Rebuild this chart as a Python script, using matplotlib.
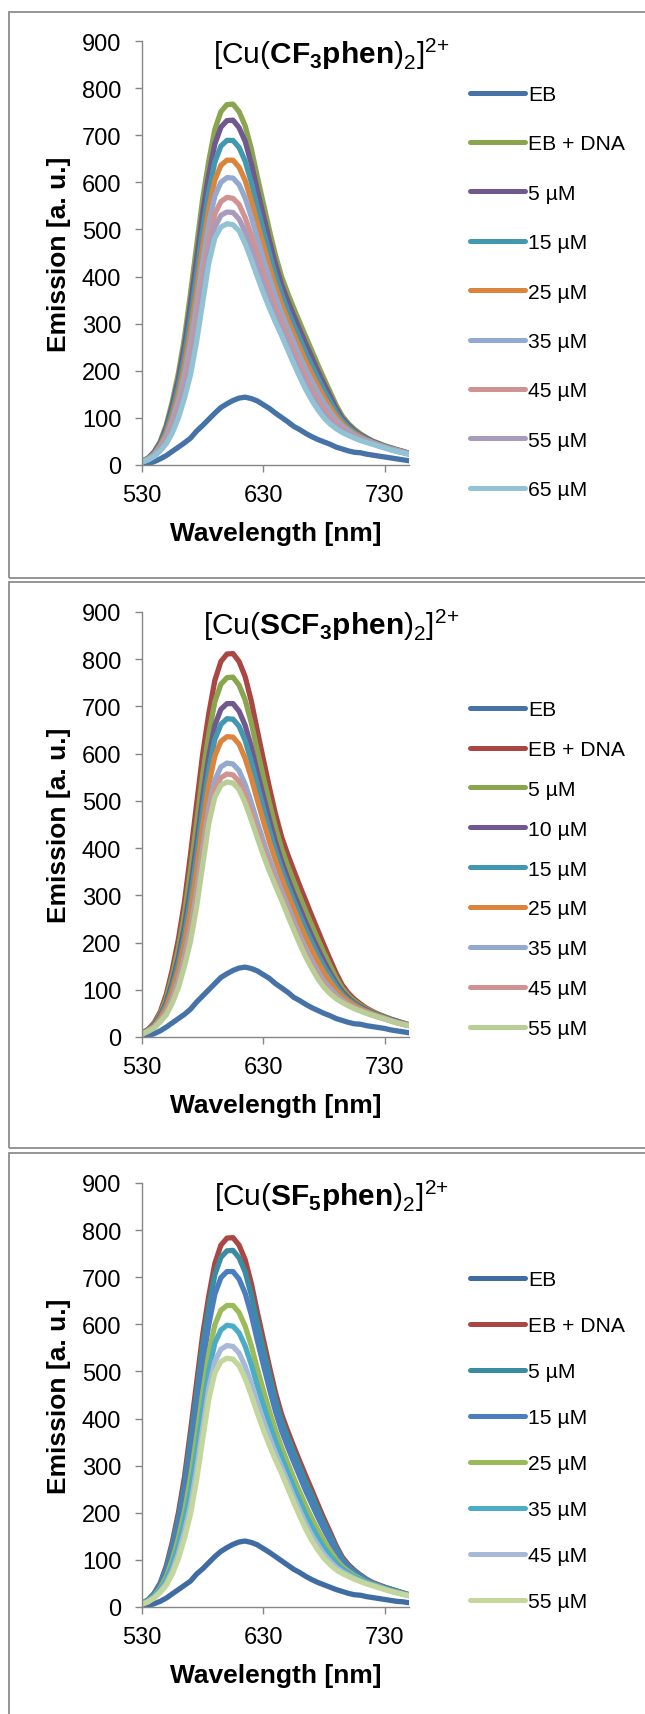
import matplotlib
matplotlib.use("Agg")
import matplotlib.pyplot as plt
from matplotlib.patches import Rectangle

plt.rcParams["font.family"] = ["Liberation Sans", "DejaVu Sans"]
plt.rcParams["mathtext.fontset"] = "custom"
plt.rcParams["mathtext.rm"] = "Liberation Sans"
plt.rcParams["mathtext.bf"] = "Liberation Sans:bold"

# --- datos: longitud de onda (nm) ---
wl = [530, 535, 540, 545, 550, 555, 560, 565, 570, 575, 580, 585, 590, 595, 600,
      605, 610, 615, 620, 625, 630, 635, 640, 645, 650, 655, 660, 665, 670, 675,
      680, 685, 690, 695, 700, 705, 710, 715, 720, 725, 730, 735, 740, 745, 750]

# --- panel 1: [Cu(CF3phen)2]2+ ---
cf3_labels = ["EB", "EB + DNA", "5 µM", "15 µM", "25 µM", "35 µM", "45 µM", "55 µM", "65 µM"]
cf3_colors = ["#4572A7", "#89A54E", "#71588F", "#4198AF", "#DB843D",
              "#93A9CF", "#D19392", "#A99BBD", "#92C3D4"]
cf3_eb = [0, 3, 7, 13, 20, 29, 38, 47, 57, 72, 84, 97, 110, 122, 130, 137, 142, 144, 141, 136, 128, 120, 110,
          101, 92, 82, 75, 67, 60, 54, 49, 44, 38, 34, 30, 27, 26, 23, 21, 19, 17, 15, 13, 11, 9]
cf3_dna = [8, 15, 28, 50, 85, 135, 195, 270, 365, 465, 565, 645, 712, 750, 765, 766, 750, 720, 672, 612, 555,
           498, 445, 400, 365, 333, 302, 272, 242, 212, 183, 155, 127, 104, 88, 76, 66, 58, 51, 46, 41, 37, 33, 29, 25]
cf3_5 = [8, 14, 27, 47, 80, 126, 182, 253, 342, 438, 536, 616, 681, 717, 731, 732, 716, 687, 640, 584, 530,
         476, 426, 383, 349, 317, 287, 257, 228, 199, 172, 146, 120, 99, 85, 73, 64, 57, 50, 45, 40, 36, 32, 29, 25]
cf3_15 = [7, 14, 25, 44, 73, 115, 167, 232, 313, 404, 499, 580, 643, 677, 689, 689, 674, 645, 601, 548, 498,
          449, 402, 363, 329, 298, 268, 238, 211, 184, 158, 135, 112, 94, 81, 70, 62, 55, 49, 44, 40, 36, 32, 28, 24]
cf3_25 = [7, 13, 23, 41, 66, 104, 151, 211, 285, 371, 463, 544, 605, 636, 647, 647, 632, 604, 562, 513, 467,
          421, 379, 342, 309, 278, 249, 220, 193, 168, 144, 123, 104, 88, 76, 67, 60, 53, 48, 43, 39, 35, 31, 28, 24]
cf3_35 = [7, 13, 22, 38, 60, 94, 137, 191, 259, 340, 430, 512, 571, 600, 610, 609, 595, 567, 527, 482, 438,
          397, 358, 323, 291, 261, 231, 203, 178, 154, 132, 113, 96, 83, 73, 64, 57, 52, 47, 42, 38, 34, 31, 27, 24]
cf3_45 = [6, 12, 20, 34, 54, 83, 121, 170, 230, 307, 393, 476, 533, 559, 568, 566, 553, 525, 488, 447, 407,
          369, 334, 303, 271, 241, 212, 185, 160, 138, 118, 102, 88, 77, 68, 61, 55, 50, 46, 41, 37, 33, 30, 27, 23]
cf3_55 = [6, 11, 19, 32, 49, 75, 110, 155, 209, 282, 367, 450, 505, 530, 537, 536, 522, 495, 460, 421, 384,
          350, 317, 288, 257, 227, 199, 171, 148, 127, 108, 94, 82, 73, 66, 59, 53, 49, 45, 41, 37, 33, 29, 26, 23]
cf3_65 = [6, 11, 18, 30, 45, 68, 100, 142, 192, 262, 345, 428, 482, 505, 512, 510, 497, 470, 436, 400, 365,
          333, 303, 275, 245, 215, 187, 160, 137, 117, 100, 87, 77, 69, 63, 57, 52, 48, 44, 40, 36, 32, 29, 26, 23]

# --- panel 2: [Cu(SCF3phen)2]2+ ---
scf3_labels = ["EB", "EB + DNA", "5 µM", "10 µM", "15 µM", "25 µM", "35 µM", "45 µM", "55 µM"]
scf3_colors = ["#4572A7", "#AA4643", "#89A54E", "#71588F", "#4198AF", "#DB843D",
               "#93A9CF", "#D19392", "#B9CD96"]
scf3_eb = [0, 3, 7, 13, 21, 30, 39, 48, 59, 74, 87, 100, 113, 126, 134, 141, 146, 148, 145, 140, 132, 124, 113,
           104, 95, 84, 77, 69, 62, 56, 50, 45, 39, 35, 31, 28, 27, 24, 22, 20, 18, 15, 13, 11, 9]
scf3_dna = [9, 16, 30, 53, 90, 143, 207, 286, 387, 493, 599, 684, 755, 795, 811, 812, 795, 763, 712, 649, 588,
            528, 472, 424, 387, 353, 320, 288, 256, 225, 194, 164, 135, 110, 93, 80, 70, 61, 54, 48, 43, 38, 34, 30, 26]
scf3_5 = [8, 15, 28, 49, 82, 130, 188, 261, 353, 453, 556, 641, 710, 747, 761, 762, 745, 714, 666, 607, 551,
          495, 444, 399, 363, 330, 297, 266, 236, 206, 178, 151, 125, 103, 88, 76, 67, 59, 53, 47, 42, 37, 33, 29, 26]
scf3_10 = [8, 14, 26, 45, 73, 116, 168, 234, 316, 409, 508, 594, 660, 694, 706, 706, 690, 660, 615, 561, 510,
           460, 413, 372, 337, 304, 273, 242, 213, 186, 160, 136, 114, 96, 83, 72, 64, 57, 51, 46, 41, 37, 33, 29, 25]
scf3_15 = [8, 14, 24, 42, 68, 107, 155, 217, 294, 383, 480, 566, 630, 662, 674, 673, 658, 628, 584, 534, 485,
           438, 395, 356, 322, 289, 258, 228, 200, 173, 149, 128, 108, 91, 79, 70, 62, 55, 50, 45, 41, 36, 32, 29, 25]
scf3_25 = [7, 13, 23, 39, 62, 97, 141, 198, 268, 353, 447, 534, 595, 626, 636, 635, 620, 590, 549, 502, 457,
           414, 374, 337, 304, 272, 240, 211, 184, 159, 136, 117, 100, 86, 76, 67, 60, 54, 49, 44, 40, 35, 31, 28, 25]
scf3_35 = [6, 13, 21, 35, 53, 82, 120, 170, 230, 308, 399, 486, 544, 572, 580, 578, 564, 535, 497, 455, 415,
           377, 342, 310, 277, 246, 215, 186, 161, 138, 118, 103, 89, 78, 70, 63, 57, 52, 47, 43, 39, 35, 31, 27, 24]
scf3_45 = [6, 12, 20, 33, 50, 76, 111, 158, 215, 290, 379, 467, 523, 549, 557, 555, 541, 513, 476, 436, 398,
           362, 330, 298, 266, 235, 205, 176, 152, 129, 111, 96, 84, 75, 68, 61, 56, 51, 46, 42, 38, 34, 30, 27, 24]
scf3_55 = [6, 12, 19, 32, 47, 72, 105, 150, 203, 276, 364, 452, 508, 533, 540, 538, 524, 496, 460, 422, 385,
           351, 320, 290, 258, 227, 197, 169, 145, 123, 105, 92, 81, 73, 66, 60, 55, 50, 46, 42, 38, 34, 30, 27, 24]

# --- panel 3: [Cu(SF5phen)2]2+ ---
sf5_labels = ["EB", "EB + DNA", "5 µM", "15 µM", "25 µM", "35 µM", "45 µM", "55 µM"]
sf5_colors = ["#3F6DA3", "#AA4643", "#3A8CA3", "#4A7EBF", "#9BBB59", "#4BACC6", "#A7B9D8", "#C3D69B"]
sf5_eb = [0, 3, 7, 12, 19, 28, 37, 46, 55, 70, 81, 94, 107, 118, 126, 133, 138, 140, 137, 132, 124, 116, 107,
          98, 89, 80, 73, 65, 58, 52, 47, 42, 37, 33, 29, 26, 25, 22, 20, 18, 16, 14, 12, 11, 9]
sf5_dna = [8, 15, 29, 51, 87, 138, 200, 276, 374, 476, 578, 660, 729, 768, 783, 784, 768, 737, 688, 626, 568,
           510, 455, 409, 374, 341, 309, 278, 248, 217, 187, 159, 130, 106, 90, 78, 68, 59, 52, 47, 42, 38, 34, 30, 26]
sf5_5 = [8, 15, 28, 49, 83, 131, 190, 262, 356, 454, 555, 637, 705, 742, 756, 757, 741, 711, 663, 604, 548,
         493, 440, 396, 361, 329, 297, 266, 237, 207, 178, 152, 125, 102, 87, 76, 67, 58, 51, 46, 42, 38, 34, 30, 26]
sf5_15 = [7, 14, 26, 45, 76, 119, 173, 240, 325, 418, 516, 599, 664, 699, 712, 712, 696, 666, 621, 566, 514,
          463, 415, 374, 340, 308, 277, 246, 218, 190, 164, 140, 116, 96, 83, 73, 64, 56, 50, 45, 41, 37, 33, 29, 25]
sf5_25 = [7, 13, 23, 40, 64, 100, 146, 203, 275, 361, 454, 537, 599, 630, 640, 640, 625, 596, 555, 506, 460,
          416, 375, 339, 306, 274, 244, 215, 188, 163, 140, 120, 101, 86, 76, 67, 60, 53, 48, 44, 39, 35, 32, 28, 25]
sf5_35 = [7, 12, 22, 37, 57, 89, 130, 182, 246, 326, 417, 501, 560, 588, 598, 596, 582, 554, 515, 470, 428,
          389, 351, 318, 286, 255, 225, 196, 170, 147, 126, 109, 93, 81, 72, 64, 58, 52, 47, 43, 38, 34, 31, 28, 24]
sf5_45 = [6, 11, 20, 33, 50, 77, 113, 160, 216, 292, 379, 464, 521, 547, 555, 553, 539, 511, 475, 434, 396,
          361, 327, 297, 266, 234, 205, 177, 152, 131, 112, 97, 84, 75, 68, 61, 55, 50, 46, 42, 38, 34, 30, 27, 24]
sf5_55 = [6, 11, 19, 31, 46, 70, 103, 146, 198, 270, 356, 441, 497, 521, 528, 526, 512, 485, 450, 412, 376,
          343, 312, 284, 253, 222, 193, 165, 141, 121, 103, 90, 79, 71, 65, 59, 54, 49, 45, 41, 37, 33, 30, 27, 24]

paneles = [
    (r"[Cu($\mathbf{CF_3phen}$)$_2$]$^{2{+}}$", cf3_labels, cf3_colors,
     [cf3_eb, cf3_dna, cf3_5, cf3_15, cf3_25, cf3_35, cf3_45, cf3_55, cf3_65]),
    (r"[Cu($\mathbf{SCF_3phen}$)$_2$]$^{2{+}}$", scf3_labels, scf3_colors,
     [scf3_eb, scf3_dna, scf3_5, scf3_10, scf3_15, scf3_25, scf3_35, scf3_45, scf3_55]),
    (r"[Cu($\mathbf{SF_5phen}$)$_2$]$^{2{+}}$", sf5_labels, sf5_colors,
     [sf5_eb, sf5_dna, sf5_5, sf5_15, sf5_25, sf5_35, sf5_45, sf5_55]),
]

W, H = 645, 1715
fig = plt.figure(figsize=(W / 100, H / 100), dpi=100)

# posiciones en pixeles (izq, arriba, abajo) de cada grafico
ejes_px = [(142, 42, 466), (142, 613, 1038), (142, 1184, 1608)]
marcos_px = [(13, 579), (583, 1149), (1154, 1730)]
leyenda_px = [(86, 1.44), (701, 0.99), (1271, 1.28)]
gris = "#868686"

for (titulo, etiquetas, colores, series), (x0, top, bot), (mt, mb), (ly, lsp) in zip(
        paneles, ejes_px, marcos_px, leyenda_px):
    # marco gris alrededor de cada panel
    fig.patches.append(Rectangle((9 / W, 1 - mb / H), 1.2, (mb - mt) / H,
                                 transform=fig.transFigure, fill=False,
                                 edgecolor="#8c8c8c", lw=1.3, clip_on=False))

    ax = fig.add_axes([x0 / W, 1 - bot / H, 267 / W, (bot - top) / H])
    for vals, lab, col in zip(series, etiquetas, colores):
        ax.plot(wl, vals, color=col, lw=3.8, label=lab,
                solid_capstyle="round", solid_joinstyle="round")

    ax.set_xlim(530, 750)
    ax.set_ylim(0, 900)
    ax.set_xticks([530, 630, 730])
    ax.set_yticks(range(0, 901, 100))
    for s in ["top", "right"]:
        ax.spines[s].set_visible(False)
    for s in ["left", "bottom"]:
        ax.spines[s].set_color(gris)
        ax.spines[s].set_linewidth(1.0)
    ax.tick_params(axis="both", direction="out", length=5, width=1.0,
                   color=gris, labelsize=17)
    ax.tick_params(axis="x", pad=9)
    ax.tick_params(axis="y", pad=10)

    ax.set_xlabel("Wavelength [nm]", fontsize=19, fontweight="bold", va="center")
    ax.set_ylabel("Emission [a. u.]", fontsize=19, fontweight="bold", va="center")
    ax.xaxis.set_label_coords(0.5, -68 / 424)
    ax.yaxis.set_label_coords(-83 / 267, 0.5)

    ax.text(0.708, 1 - 12 / 424, titulo, transform=ax.transAxes,
            ha="center", va="center", fontsize=21.5)

    ax.legend(loc="upper left", bbox_to_anchor=(470 / W, 1 - ly / H),
              bbox_transform=fig.transFigure, frameon=False, fontsize=15.2,
              borderpad=0, borderaxespad=0, handlelength=2.6,
              handletextpad=0.15, labelspacing=lsp)
    for ln in ax.get_legend().get_lines():
        ln.set_linewidth(3.6)
        ln.set_solid_capstyle("round")

fig.savefig("out.png", dpi=100)
